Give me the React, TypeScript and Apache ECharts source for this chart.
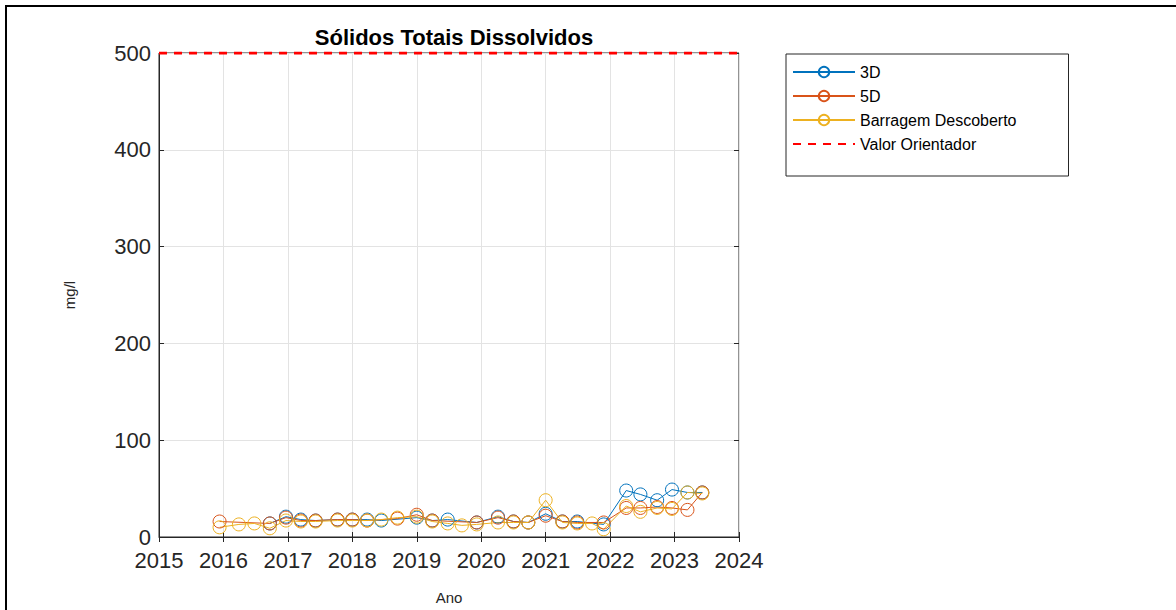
import React, { useEffect, useRef } from "react";
import * as echarts from "echarts";

const title = "Sólidos Totais Dissolvidos";
const xName = "Ano";
const yName = "mg/l";
const guideValue = 500;

const dates3D = [2016.72, 2016.97, 2017.2, 2017.43, 2017.77, 2018.0, 2018.23, 2018.45, 2019.0, 2019.24, 2019.48, 2019.93, 2020.26, 2020.5, 2020.73, 2021.0, 2021.26, 2021.49, 2021.9, 2022.25, 2022.47, 2022.73, 2022.96, 2023.2, 2023.43];
const values3D = [14, 21, 18, 17, 18, 18, 18, 17, 20, 17, 18, 15, 21, 16, 15, 24, 16, 16, 13, 48, 44, 38, 49, 46, 46];

const dates5D = [2015.94, 2016.72, 2016.97, 2017.2, 2017.43, 2017.77, 2018.0, 2018.23, 2018.7, 2019.0, 2019.24, 2019.93, 2020.26, 2020.5, 2020.73, 2021.0, 2021.26, 2021.49, 2021.9, 2022.25, 2022.47, 2022.73, 2022.96, 2023.2, 2023.43];
const values5D = [16, 14, 20, 17, 17, 18, 18, 17, 19, 23, 17, 15, 20, 16, 15, 22, 16, 15, 15, 30, 30, 31, 30, 28, 46];

const datesBarragem = [2015.94, 2016.24, 2016.48, 2016.72, 2016.97, 2017.2, 2017.43, 2017.77, 2018.0, 2018.23, 2018.45, 2018.7, 2019.0, 2019.24, 2019.48, 2019.7, 2019.93, 2020.26, 2020.5, 2020.73, 2021.0, 2021.26, 2021.49, 2021.72, 2021.9, 2022.25, 2022.47, 2022.73, 2022.96, 2023.2, 2023.43];
const valuesBarragem = [10, 13, 14, 9, 17, 16, 16, 17, 17, 17, 18, 20, 21, 16, 14, 12, 13, 15, 15, 15, 38, 15, 14, 14, 8, 32, 26, 30, 29, 46, 45];

const seriesNames = ["3D", "5D", "Barragem Descoberto", "Valor Orientador"];
const yearTicks = [2015, 2024];
const valueRange = [0, 500];

const FONT = '"Liberation Sans", Arial, Helvetica, sans-serif';
const AXIS = "#262626";

function pairs(xs: number[], ys: number[]) {
  return xs.map((x, i) => [x, ys[i]]);
}

function lineSeries(name: string, data: number[][], color: string) {
  return {
    name,
    type: "line",
    data,
    symbol: "circle",
    symbolSize: 13,
    lineStyle: { color, width: 1 },
    itemStyle: { color: "transparent", borderColor: color, borderWidth: 1 },
    emphasis: { disabled: true },
    xAxisIndex: 0,
    yAxisIndex: 0,
  };
}

export default function App() {
  const ref = useRef<HTMLDivElement>(null);
  useEffect(() => {
    if (!ref.current) return;
    const chart = echarts.init(ref.current, null, { renderer: "svg" });
    const left = 159, right = 739, top = 53, bottom = 543;
    chart.setOption({
      animation: false,
      backgroundColor: "#ffffff",
      textStyle: { fontFamily: FONT },
      title: {
        text: title,
        left: (left + right) / 2,
        textAlign: "center",
        top: 21,
        textStyle: { fontFamily: FONT, fontSize: 22, fontWeight: "bold", color: "#000" },
      },
      grid: {
        left,
        top,
        width: right - left,
        height: bottom - top,
        show: true,
        borderColor: AXIS,
        borderWidth: 1,
        backgroundColor: "transparent",
      },
      legend: {
        orient: "vertical",
        left: 786,
        top: 54,
        data: [
          { name: seriesNames[0] },
          { name: seriesNames[1] },
          { name: seriesNames[2] },
          { name: seriesNames[3], itemStyle: { color: "transparent", borderColor: "transparent", opacity: 0 } },
        ],
        itemWidth: 62,
        itemHeight: 13,
        itemGap: 6,
        padding: [9, 52, 23, 6],
        borderColor: AXIS,
        borderWidth: 1,
        backgroundColor: "#fff",
        textStyle: { fontFamily: FONT, fontSize: 16, lineHeight: 18, color: "#000", padding: [0, 0, 0, 0] },
        selectedMode: false,
      },
      xAxis: [
        {
          type: "value",
          min: yearTicks[0],
          max: yearTicks[1],
          interval: 1,
          name: xName,
          nameLocation: "middle",
          nameGap: 53,
          nameTextStyle: { fontFamily: FONT, fontSize: 15, color: "#262626" },
          axisLine: { show: true, onZero: false, lineStyle: { color: AXIS, width: 1 } },
          axisTick: { show: true, inside: true, length: 5, lineStyle: { color: AXIS } },
          axisLabel: { fontFamily: FONT, fontSize: 22, color: "#262626", margin: 12, formatter: (v: number) => String(v) },
          splitLine: { show: true, lineStyle: { color: "#e3e3e3", width: 1 } },
        },
        {
          type: "value",
          position: "top",
          min: yearTicks[0],
          max: yearTicks[1],
          interval: 1,
          axisLine: { show: false },
          axisTick: { show: true, inside: true, length: 5, lineStyle: { color: AXIS } },
          axisLabel: { show: false },
          splitLine: { show: false },
        },
      ],
      yAxis: [
        {
          type: "value",
          min: valueRange[0],
          max: valueRange[1],
          interval: 100,
          name: yName,
          nameLocation: "middle",
          nameGap: 82,
          nameRotate: 90,
          nameTextStyle: { fontFamily: FONT, fontSize: 15, color: "#262626" },
          axisLine: { show: true, onZero: false, lineStyle: { color: AXIS, width: 1 } },
          axisTick: { show: true, inside: true, length: 5, lineStyle: { color: AXIS } },
          axisLabel: { fontFamily: FONT, fontSize: 22, color: "#262626", margin: 8 },
          splitLine: { show: true, lineStyle: { color: "#e3e3e3", width: 1 } },
        },
        {
          type: "value",
          position: "right",
          min: valueRange[0],
          max: valueRange[1],
          interval: 100,
          axisLine: { show: false },
          axisTick: { show: true, inside: true, length: 5, lineStyle: { color: AXIS } },
          axisLabel: { show: false },
          splitLine: { show: false },
        },
      ],
      series: [
        lineSeries(seriesNames[0], pairs(dates3D, values3D), "#0072BD"),
        lineSeries(seriesNames[1], pairs(dates5D, values5D), "#D95319"),
        lineSeries(seriesNames[2], pairs(datesBarragem, valuesBarragem), "#EDB120"),
        {
          name: seriesNames[3],
          type: "line",
          data: [[yearTicks[0], guideValue], [yearTicks[1], guideValue]],
          symbol: "none",
          lineStyle: { color: "#FF0000", width: 3, type: [8, 7] },
          itemStyle: { color: "#FF0000" },
          emphasis: { disabled: true },
          z: 5,
        },
      ],
      graphic: [
        {
          type: "rect",
          shape: { x: 6, y: 6, width: 1300, height: 800 },
          style: { fill: "none", stroke: "#000", lineWidth: 2 },
          silent: true,
        },
      ],
    });
    return () => chart.dispose();
  }, []);
  return <div ref={ref} style={{ position: "fixed", left: 0, top: 0, width: 1176, height: 610 }} />;
}
